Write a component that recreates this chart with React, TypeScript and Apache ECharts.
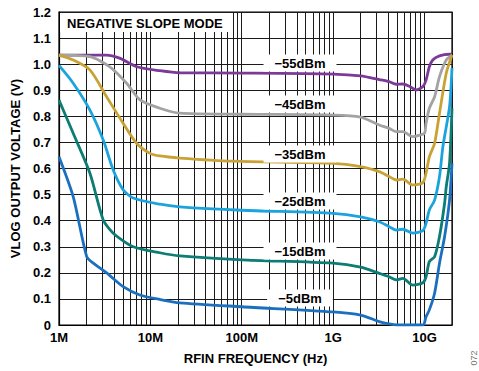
import React, { useEffect, useRef } from "react";
import * as echarts from "echarts";

// Frequency (Hz) / VLOG (V) pairs
const m55: [number, number][] = [
  [1e6, 1.035], [2e6, 1.035], [3.3e6, 1.035], [4.6e6, 1.023], [7.1e6, 0.99], [12.7e6, 0.975],
  [21e6, 0.967], [100e6, 0.966], [1e9, 0.962], [2e9, 0.955], [3.2e9, 0.941], [4.1e9, 0.933],
  [4.9e9, 0.923], [5.8e9, 0.924], [6.9e9, 0.914], [8.1e9, 0.901], [9.6e9, 0.914], [10.4e9, 0.939],
  [11.3e9, 0.99], [12.3e9, 1.016], [14.6e9, 1.032], [18.8e9, 1.038], [2e10, 1.038],
];
const m45: [number, number][] = [
  [1e6, 1.035], [2.18e6, 1.029], [3.6e6, 0.99], [5.5e6, 0.927], [7.7e6, 0.863], [12.7e6, 0.831],
  [21e6, 0.812], [100e6, 0.808], [1e9, 0.805], [2e9, 0.797], [3.2e9, 0.767], [4.1e9, 0.754],
  [4.9e9, 0.741], [5.8e9, 0.741], [7.4e9, 0.722], [8.8e9, 0.728], [10e9, 0.735], [10.4e9, 0.773],
  [11.3e9, 0.831], [12.9e9, 0.875], [14.6e9, 0.952], [17.3e9, 1.016], [2e10, 1.035],
];
const m35: [number, number][] = [
  [1e6, 1.035], [1.43e6, 1.016], [2.18e6, 0.978], [3.32e6, 0.875], [5.04e6, 0.773], [7.06e6, 0.697],
  [9.9e6, 0.658], [12.7e6, 0.648], [21e6, 0.64], [80e6, 0.628], [1e9, 0.62], [2e9, 0.607],
  [3.2e9, 0.588], [4.1e9, 0.569], [4.9e9, 0.556], [5.8e9, 0.559], [7.45e9, 0.537], [9.6e9, 0.546],
  [10.4e9, 0.582], [11.3e9, 0.645], [12.9e9, 0.697], [14.6e9, 0.812], [17.3e9, 0.965], [2e10, 1.035],
];
const m25: [number, number][] = [
  [1e6, 0.995], [1.43e6, 0.927], [2.18e6, 0.824], [3.05e6, 0.709], [3.92e6, 0.594], [5.04e6, 0.518],
  [6.49e6, 0.487], [12.7e6, 0.463], [21e6, 0.453], [100e6, 0.44], [1e9, 0.428], [2e9, 0.415],
  [3.2e9, 0.396], [4.1e9, 0.377], [4.9e9, 0.364], [5.8e9, 0.367], [7.45e9, 0.352], [9.6e9, 0.362],
  [10.4e9, 0.39], [11.3e9, 0.441], [12.9e9, 0.479], [14.6e9, 0.569], [15.9e9, 0.684],
  [18.8e9, 0.837], [2e10, 0.985],
];
const m15: [number, number][] = [
  [1e6, 0.862], [1.43e6, 0.735], [2.18e6, 0.582], [3.05e6, 0.403], [3.92e6, 0.352], [6.49e6, 0.3],
  [12.7e6, 0.277], [21e6, 0.265], [100e6, 0.25], [1e9, 0.237], [2e9, 0.222], [3.2e9, 0.198],
  [4.1e9, 0.185], [4.9e9, 0.173], [5.8e9, 0.179], [7.45e9, 0.153], [9.6e9, 0.162], [10.4e9, 0.185],
  [11.3e9, 0.243], [12.9e9, 0.262], [14.6e9, 0.339], [16.6e9, 0.467], [17.3e9, 0.53],
  [18.8e9, 0.62], [2e10, 0.83],
];
const m5: [number, number][] = [
  [1e6, 0.645], [1.43e6, 0.492], [2.01e6, 0.262], [2.37e6, 0.237], [3.32e6, 0.2], [5.04e6, 0.147],
  [7.68e6, 0.115], [12.7e6, 0.098], [21e6, 0.085], [100e6, 0.07], [1e9, 0.05], [2e9, 0.038],
  [3.2e9, 0.013], [4.1e9, 0.004], [5e9, 0], [9.6e9, 0], [10.4e9, 0.032], [11.3e9, 0.058],
  [12.9e9, 0.122], [14.6e9, 0.237], [16.6e9, 0.339], [18.8e9, 0.479], [2e10, 0.62],
];

const seriesNames = ["−55dBm", "−45dBm", "−35dBm", "−25dBm", "−15dBm", "−5dBm"];
const seriesData = [m55, m45, m35, m25, m15, m5];
const seriesColors = ["#7B3A97", "#A3A3A3", "#C9A236", "#1AA3DD", "#0C7C74", "#1A6FBF"];
const xTickLabels: Record<number, string> = { 6: "1M", 7: "10M", 8: "100M", 9: "1G", 10: "10G" };
const minorMultipliers = [2, 3, 4, 5, 6, 7, 8, 9];
const decades = [1e6, 1e7, 1e8, 1e9];

const FONT = '"Liberation Sans", Arial, sans-serif';
const GRID_COLOR = "#1a1a1a";

export default function App() {
  const ref = useRef<HTMLDivElement>(null);
  useEffect(() => {
    document.body.style.margin = "0";
    if (!ref.current) return;
    const chart = echarts.init(ref.current, undefined, { renderer: "svg" });
    const minorLines: any[] = [];
    decades.forEach((d) => minorMultipliers.forEach((m) => minorLines.push({ xAxis: d * m })));
    minorLines.push({ xAxis: 1e10 });

    const labelY = [63, 104, 154, 201, 251, 298];
    const labelEls = seriesNames.map((n, i) => ({
      type: "text",
      z: 100,
      x: 300,
      y: labelY[i],
      style: {
        text: n,
        fill: "#000",
        font: `bold 13px ${FONT}`,
        align: "center",
        verticalAlign: "middle",
        backgroundColor: "#fff",
        padding: [2, 11, 2, 11],
      },
    }));

    chart.setOption({
      animation: false,
      backgroundColor: "#fff",
      grid: { left: 59, top: 12, right: 27, bottom: 46, show: true, borderColor: "#000", borderWidth: 1.2 },
      xAxis: {
        type: "log",
        logBase: 10,
        min: 1e6,
        max: 2e10,
        interval: 1,
        name: "RFIN FREQUENCY (Hz)",
        nameLocation: "middle",
        nameGap: 27,
        nameTextStyle: { fontFamily: FONT, fontWeight: "bold", fontSize: 13, color: "#000" },
        axisLine: { lineStyle: { color: "#000", width: 1.2 } },
        axisTick: { show: false },
        splitLine: { show: true, lineStyle: { color: GRID_COLOR, width: 1 } },
        axisLabel: {
          margin: 6,
          fontFamily: FONT,
          fontWeight: "bold",
          fontSize: 13,
          color: "#000",
          formatter: (v: number) => {
            const l = Math.log10(v);
            const r = Math.round(l);
            return Math.abs(l - r) < 1e-6 && xTickLabels[r] ? xTickLabels[r] : "";
          },
        },
      },
      yAxis: {
        type: "value",
        min: 0,
        max: 1.2,
        interval: 0.1,
        name: "VLOG OUTPUT VOLTAGE (V)",
        nameLocation: "middle",
        nameGap: 35,
        nameTextStyle: { fontFamily: FONT, fontWeight: "bold", fontSize: 13, color: "#000" },
        axisLine: { show: true, lineStyle: { color: "#000", width: 1.2 } },
        axisTick: { show: false },
        splitLine: { show: true, lineStyle: { color: GRID_COLOR, width: 1 } },
        axisLabel: {
          margin: 8,
          fontFamily: FONT,
          fontWeight: "bold",
          fontSize: 13,
          color: "#000",
          formatter: (v: number) => (Math.abs(v) < 1e-9 ? "0" : v.toFixed(1)),
        },
      },
      series: [
        {
          type: "line",
          data: [],
          z: 1,
          silent: true,
          markLine: {
            silent: true,
            symbol: "none",
            label: { show: false },
            lineStyle: { color: GRID_COLOR, width: 1, type: "solid" },
            data: minorLines,
          },
        },
        ...seriesData.map((d, i) => ({
          type: "line",
          name: seriesNames[i],
          data: d,
          showSymbol: false,
          smooth: 0.25,
          z: 5,
          lineStyle: { color: seriesColors[i], width: 2.8 },
          itemStyle: { color: seriesColors[i] },
        })),
      ],
      graphic: [
        {
          type: "rect",
          z: 100,
          shape: { x: 60, y: 13, width: 171, height: 19 },
          style: { fill: "#fff" },
        },
        {
          type: "text",
          z: 101,
          x: 67,
          y: 23,
          style: {
            text: "NEGATIVE SLOPE MODE",
            fill: "#000",
            font: `bold 13px ${FONT}`,
            align: "left",
            verticalAlign: "middle",
          },
        },
        ...labelEls,
        {
          type: "text",
          z: 100,
          x: 474,
          y: 358,
          rotation: Math.PI / 2,
          style: {
            text: "072",
            fill: "#777",
            font: `9px ${FONT}`,
            align: "center",
            verticalAlign: "middle",
          },
        },
      ],
    });
    return () => chart.dispose();
  }, []);
  return <div ref={ref} style={{ width: 479, height: 371 }} />;
}
